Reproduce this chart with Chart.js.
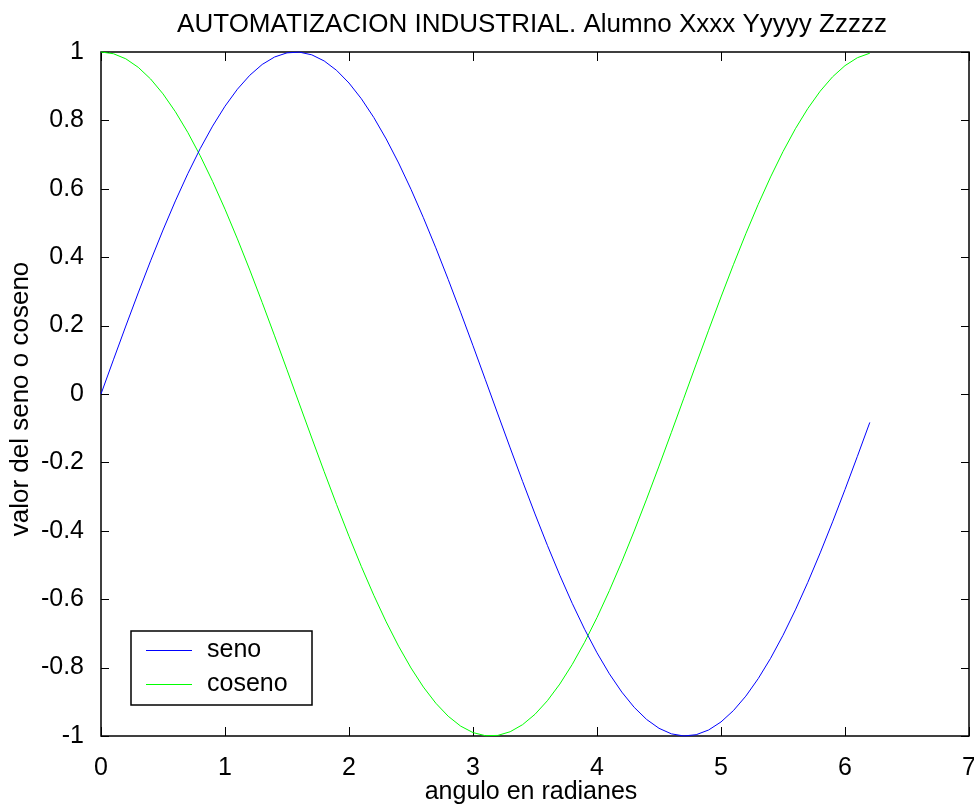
<!DOCTYPE html>
<html>
<head>
<meta charset="utf-8">
<script src="https://cdn.jsdelivr.net/npm/chart.js@4/dist/chart.umd.min.js"></script>
<style>
  html, body { margin: 0; padding: 0; background: #fff; }
  canvas { display: block; }
</style>
</head>
<body>
<canvas id="plot" width="974" height="805"></canvas>
<script>
// angulo (rad), paso 0.1
const angulos = [0, 0.1, 0.2, 0.3, 0.4, 0.5, 0.6, 0.7, 0.8, 0.9, 1.0, 1.1, 1.2, 1.3, 1.4, 1.5, 1.6, 1.7, 1.8, 1.9,
    2.0, 2.1, 2.2, 2.3, 2.4, 2.5, 2.6, 2.7, 2.8, 2.9, 3.0, 3.1, 3.2, 3.3, 3.4, 3.5, 3.6, 3.7, 3.8, 3.9,
    4.0, 4.1, 4.2, 4.3, 4.4, 4.5, 4.6, 4.7, 4.8, 4.9, 5.0, 5.1, 5.2, 5.3, 5.4, 5.5, 5.6, 5.7, 5.8, 5.9,
    6.0, 6.1, 6.2];
const seno = [0, 0.0998, 0.1987, 0.2955, 0.3894, 0.4794, 0.5646, 0.6442, 0.7174, 0.7833, 0.8415, 0.8912, 0.9320,
    0.9636, 0.9854, 0.9975, 0.9996, 0.9917, 0.9738, 0.9463, 0.9093, 0.8632, 0.8085, 0.7457, 0.6755, 0.5985,
    0.5155, 0.4274, 0.3350, 0.2392, 0.1411, 0.0416, -0.0584, -0.1577, -0.2555, -0.3508, -0.4425, -0.5298,
    -0.6119, -0.6878, -0.7568, -0.8183, -0.8716, -0.9162, -0.9516, -0.9775, -0.9937, -0.9999, -0.9962,
    -0.9825, -0.9589, -0.9258, -0.8835, -0.8323, -0.7728, -0.7055, -0.6313, -0.5507, -0.4646, -0.3739,
    -0.2794, -0.1822, -0.0831];
const coseno = [1, 0.9950, 0.9801, 0.9553, 0.9211, 0.8776, 0.8253, 0.7648, 0.6967, 0.6216, 0.5403, 0.4536,
    0.3624, 0.2675, 0.1700, 0.0707, -0.0292, -0.1288, -0.2272, -0.3233, -0.4161, -0.5048, -0.5885, -0.6663,
    -0.7374, -0.8011, -0.8569, -0.9041, -0.9422, -0.9710, -0.9900, -0.9991, -0.9983, -0.9875, -0.9668,
    -0.9365, -0.8968, -0.8481, -0.7910, -0.7259, -0.6536, -0.5748, -0.4903, -0.4008, -0.3073, -0.2108,
    -0.1122, -0.0124, 0.0875, 0.1865, 0.2837, 0.3780, 0.4685, 0.5544, 0.6347, 0.7087, 0.7756, 0.8347,
    0.8855, 0.9275, 0.9602, 0.9833, 0.9965];

const xTicks = [0, 1, 2, 3, 4, 5, 6, 7];
const yTicks = [-1, -0.8, -0.6, -0.4, -0.2, 0, 0.2, 0.4, 0.6, 0.8, 1];

const titulo = 'AUTOMATIZACION INDUSTRIAL. Alumno Xxxx Yyyyy Zzzzz';
const xTitulo = 'angulo en radianes';
const yTitulo = 'valor del seno o coseno';

const FONT = '"Liberation Sans", Arial, sans-serif';

function toPoints(ys) {
    return angulos.map((a, i) => ({ x: a, y: ys[i] }));
}

// caja de ejes + marcas hacia dentro (estilo matlab)
const axesBox = {
    id: 'axesBox',
    beforeDatasetsDraw(chart) {
        const ctx = chart.ctx;
        const a = chart.chartArea;
        const sx = chart.scales.x, sy = chart.scales.y;
        ctx.save();
        ctx.strokeStyle = '#000';
        ctx.lineWidth = 1;
        ctx.beginPath();
        xTicks.forEach(v => {
            const px = Math.round(sx.getPixelForValue(v)) + 0.5;
            ctx.moveTo(px, a.bottom); ctx.lineTo(px, a.bottom - 9);
            ctx.moveTo(px, a.top); ctx.lineTo(px, a.top + 9);
        });
        yTicks.forEach(v => {
            const py = Math.round(sy.getPixelForValue(v)) + 0.5;
            ctx.moveTo(a.left, py); ctx.lineTo(a.left + 8, py);
            ctx.moveTo(a.right, py); ctx.lineTo(a.right - 8, py);
        });
        ctx.stroke();
        ctx.lineWidth = 1.5;
        ctx.strokeRect(a.left, a.top, a.right - a.left, a.bottom - a.top);
        ctx.restore();
    },
    afterDraw(chart) {
        const ctx = chart.ctx;
        ctx.save();
        ctx.fillStyle = '#000';
        ctx.textAlign = 'center';
        ctx.textBaseline = 'alphabetic';
        ctx.font = '26px ' + FONT;
        ctx.fillText(titulo, 532, 32);
        ctx.font = '25px ' + FONT;
        ctx.fillText(xTitulo, 531, 799);
        ctx.translate(21, 399);
        ctx.rotate(-Math.PI / 2);
        ctx.textBaseline = 'middle';
        ctx.font = '26px ' + FONT;
        ctx.fillText(yTitulo, 0, 0);
        ctx.restore();

        // leyenda
        ctx.save();
        ctx.fillStyle = '#fff';
        ctx.fillRect(131, 631, 181, 74);
        ctx.strokeStyle = '#000';
        ctx.lineWidth = 1.5;
        ctx.strokeRect(131, 631, 181, 74);
        ctx.font = '25px ' + FONT;
        ctx.textAlign = 'left';
        ctx.textBaseline = 'middle';
        chart.data.datasets.forEach((ds, i) => {
            const y = 650.5 + i * 34;
            ctx.strokeStyle = ds.borderColor;
            ctx.lineWidth = 1;
            ctx.beginPath();
            ctx.moveTo(146, y); ctx.lineTo(192, y);
            ctx.stroke();
            ctx.fillStyle = '#000';
            ctx.fillText(ds.label, 207, y);
        });
        ctx.restore();
    }
};

new Chart(document.getElementById('plot'), {
    type: 'line',
    data: {
        datasets: [{
            label: 'seno',
            data: toPoints(seno),
            borderColor: '#0000ff',
            borderWidth: 1,
            pointRadius: 0,
            tension: 0,
            clip: false
        }, {
            label: 'coseno',
            data: toPoints(coseno),
            borderColor: '#00ff00',
            borderWidth: 1,
            pointRadius: 0,
            tension: 0,
            clip: false
        }]
    },
    options: {
        responsive: false,
        animation: false,
        events: [],
        layout: { padding: { top: 52, right: 5, left: 0, bottom: 0 } },
        plugins: {
            legend: { display: false },
            tooltip: { enabled: false }
        },
        scales: {
            x: {
                type: 'linear',
                min: 0,
                max: 7,
                afterFit: s => { s.height = 69; s.paddingLeft = 0; s.paddingRight = 0; },
                afterBuildTicks: s => { s.ticks = xTicks.map(v => ({ value: v })); },
                grid: { display: false },
                border: { display: false },
                ticks: {
                    color: '#000',
                    padding: 9,
                    maxRotation: 0,
                    font: { family: FONT, size: 25 }
                }
            },
            y: {
                type: 'linear',
                min: -1,
                max: 1,
                afterFit: s => { s.width = 101; s.paddingTop = 0; s.paddingBottom = 0; },
                afterBuildTicks: s => { s.ticks = yTicks.map(v => ({ value: v })); },
                grid: { display: false },
                border: { display: false },
                ticks: {
                    color: '#000',
                    padding: 9,
                    font: { family: FONT, size: 25 },
                    callback: v => String(Number(v.toFixed(1)))
                }
            }
        }
    },
    plugins: [axesBox]
});
</script>
</body>
</html>
